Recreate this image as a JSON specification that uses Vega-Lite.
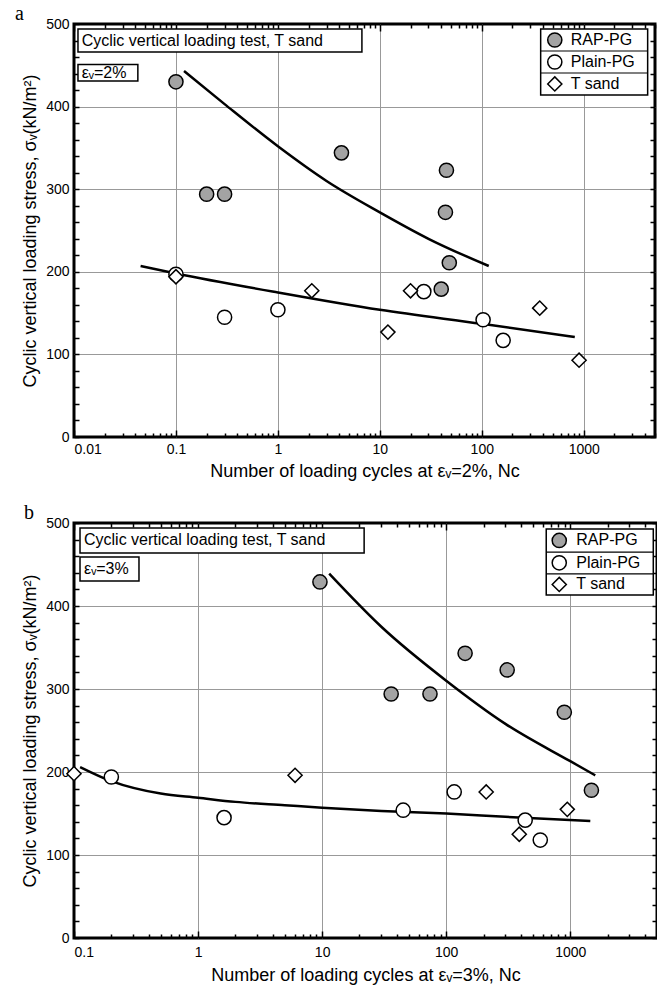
{
  "$schema": "https://vega.github.io/schema/vega-lite/v6.json",
  "background": "white",
  "padding": {"left": 13, "top": 2, "right": 0, "bottom": 2},
  "config": {
    "font": "Liberation Sans",
    "view": {"stroke": "black", "strokeWidth": 3},
    "axis": {
      "domain": false,
      "labelFont": "Liberation Sans",
      "labelFontSize": 14,
      "labelColor": "black",
      "titleFont": "Liberation Sans",
      "titleFontSize": 18,
      "titleFontWeight": "normal",
      "titleColor": "black",
      "tickColor": "black",
      "tickWidth": 1.5,
      "gridColor": "#999999",
      "gridWidth": 1
    },
    "text": {"font": "Liberation Sans", "fontSize": 16, "color": "black"}
  },
  "datasets": {
    "pointsA": [
      {"Nc": 0.1, "stress": 430, "material": "RAP-PG"},
      {"Nc": 0.2, "stress": 294, "material": "RAP-PG"},
      {"Nc": 0.3, "stress": 294, "material": "RAP-PG"},
      {"Nc": 4.2, "stress": 344, "material": "RAP-PG"},
      {"Nc": 45, "stress": 323, "material": "RAP-PG"},
      {"Nc": 44, "stress": 272, "material": "RAP-PG"},
      {"Nc": 48, "stress": 211, "material": "RAP-PG"},
      {"Nc": 40, "stress": 179, "material": "RAP-PG"},
      {"Nc": 0.1, "stress": 197, "material": "Plain-PG"},
      {"Nc": 0.3, "stress": 145, "material": "Plain-PG"},
      {"Nc": 1.0, "stress": 154, "material": "Plain-PG"},
      {"Nc": 27, "stress": 176, "material": "Plain-PG"},
      {"Nc": 103, "stress": 142, "material": "Plain-PG"},
      {"Nc": 162, "stress": 117, "material": "Plain-PG"},
      {"Nc": 0.1, "stress": 194, "material": "T sand"},
      {"Nc": 2.15, "stress": 177, "material": "T sand"},
      {"Nc": 12, "stress": 127, "material": "T sand"},
      {"Nc": 20, "stress": 177, "material": "T sand"},
      {"Nc": 370, "stress": 156, "material": "T sand"},
      {"Nc": 900, "stress": 93, "material": "T sand"}
    ],
    "linesA": [
      {"Nc": 0.12, "stress": 443, "curve": "upper"},
      {"Nc": 0.3, "stress": 403, "curve": "upper"},
      {"Nc": 1, "stress": 352, "curve": "upper"},
      {"Nc": 3, "stress": 310, "curve": "upper"},
      {"Nc": 10, "stress": 272, "curve": "upper"},
      {"Nc": 30, "stress": 240, "curve": "upper"},
      {"Nc": 117, "stress": 207, "curve": "upper"},
      {"Nc": 0.045, "stress": 207, "curve": "lower"},
      {"Nc": 0.1, "stress": 198, "curve": "lower"},
      {"Nc": 1, "stress": 175, "curve": "lower"},
      {"Nc": 10, "stress": 154, "curve": "lower"},
      {"Nc": 100, "stress": 137, "curve": "lower"},
      {"Nc": 817, "stress": 121, "curve": "lower"}
    ],
    "pointsB": [
      {"Nc": 9.6, "stress": 429, "material": "RAP-PG"},
      {"Nc": 36, "stress": 294, "material": "RAP-PG"},
      {"Nc": 74, "stress": 294, "material": "RAP-PG"},
      {"Nc": 142, "stress": 343, "material": "RAP-PG"},
      {"Nc": 310, "stress": 323, "material": "RAP-PG"},
      {"Nc": 895, "stress": 272, "material": "RAP-PG"},
      {"Nc": 1480, "stress": 178, "material": "RAP-PG"},
      {"Nc": 0.2, "stress": 194, "material": "Plain-PG"},
      {"Nc": 1.62, "stress": 145, "material": "Plain-PG"},
      {"Nc": 45, "stress": 154, "material": "Plain-PG"},
      {"Nc": 116, "stress": 176, "material": "Plain-PG"},
      {"Nc": 433, "stress": 142, "material": "Plain-PG"},
      {"Nc": 573, "stress": 118, "material": "Plain-PG"},
      {"Nc": 0.1, "stress": 198, "material": "T sand"},
      {"Nc": 6.05, "stress": 196, "material": "T sand"},
      {"Nc": 210, "stress": 176, "material": "T sand"},
      {"Nc": 388, "stress": 125, "material": "T sand"},
      {"Nc": 946, "stress": 155, "material": "T sand"}
    ],
    "linesB": [
      {"Nc": 11.4, "stress": 439, "curve": "upper"},
      {"Nc": 30, "stress": 375, "curve": "upper"},
      {"Nc": 100, "stress": 310, "curve": "upper"},
      {"Nc": 300, "stress": 258, "curve": "upper"},
      {"Nc": 1000, "stress": 213, "curve": "upper"},
      {"Nc": 1590, "stress": 196, "curve": "upper"},
      {"Nc": 0.112, "stress": 206, "curve": "lower"},
      {"Nc": 0.2, "stress": 189, "curve": "lower"},
      {"Nc": 0.5, "stress": 174, "curve": "lower"},
      {"Nc": 1, "stress": 169, "curve": "lower"},
      {"Nc": 2, "stress": 164, "curve": "lower"},
      {"Nc": 5, "stress": 160, "curve": "lower"},
      {"Nc": 10, "stress": 157, "curve": "lower"},
      {"Nc": 30, "stress": 153, "curve": "lower"},
      {"Nc": 100, "stress": 150, "curve": "lower"},
      {"Nc": 300, "stress": 146, "curve": "lower"},
      {"Nc": 1450, "stress": 141, "curve": "lower"}
    ]
  },
  "spacing": 19,
  "vconcat": [
    {
      "title": {"text": "a", "anchor": "start", "frame": "group", "font": "Liberation Serif", "fontSize": 20, "fontWeight": "normal", "color": "black", "dx": -59, "offset": -7},
      "width": 581,
      "height": 413,
      "resolve": {"axis": {"x": "independent", "y": "independent"}},
      "layer": [
        {
          "data": {"values": [{"label": "Cyclic vertical loading test, T sand"}]},
          "mark": {"type": "rect", "fill": "white", "stroke": "black", "strokeWidth": 1.5},
          "encoding": {
            "x": {"datum": 0.01094, "type": "quantitative", "scale": {"type": "log", "domain": [0.01, 5000], "nice": false}, "axis": null},
            "x2": {"datum": 6.67},
            "y": {"datum": 494, "type": "quantitative", "scale": {"domain": [0, 500], "nice": false}, "axis": null},
            "y2": {"datum": 466}
          }
        },
        {
          "data": {"values": [{"label": "Cyclic vertical loading test, T sand"}]},
          "mark": {"type": "text", "align": "left", "baseline": "middle"},
          "encoding": {
            "x": {"datum": 0.0119, "type": "quantitative", "axis": null},
            "y": {"datum": 480, "type": "quantitative", "axis": null},
            "text": {"field": "label"}
          }
        },
        {
          "data": {"values": [{"label": "εᵥ=2%"}]},
          "mark": {"type": "rect", "fill": "white", "stroke": "black", "strokeWidth": 1.5},
          "encoding": {
            "x": {"datum": 0.01094, "type": "quantitative", "axis": null},
            "x2": {"datum": 0.0423},
            "y": {"datum": 451, "type": "quantitative", "axis": null},
            "y2": {"datum": 431}
          }
        },
        {
          "data": {"values": [{"label": "εᵥ=2%"}]},
          "mark": {"type": "text", "align": "left", "baseline": "middle"},
          "encoding": {
            "x": {"datum": 0.0119, "type": "quantitative", "axis": null},
            "y": {"datum": 441, "type": "quantitative", "axis": null},
            "text": {"field": "label"}
          }
        },
        {
          "data": {"values": [{"label": "legend"}]},
          "mark": {"type": "rect", "fill": "white", "stroke": "black", "strokeWidth": 1.5},
          "encoding": {
            "x": {"datum": 378, "type": "quantitative", "axis": null},
            "x2": {"datum": 4236},
            "y": {"datum": 494, "type": "quantitative", "axis": null},
            "y2": {"datum": 414}
          }
        },
        {
          "data": {"values": [{"label": "separator"}]},
          "mark": {"type": "rule", "stroke": "black", "strokeWidth": 1.2},
          "encoding": {
            "x": {"datum": 378, "type": "quantitative", "axis": null},
            "x2": {"datum": 4236},
            "y": {"datum": 467.3, "type": "quantitative", "axis": null}
          }
        },
        {
          "data": {"values": [{"label": "separator"}]},
          "mark": {"type": "rule", "stroke": "black", "strokeWidth": 1.2},
          "encoding": {
            "x": {"datum": 378, "type": "quantitative", "axis": null},
            "x2": {"datum": 4236},
            "y": {"datum": 440.7, "type": "quantitative", "axis": null}
          }
        },
        {
          "data": {"values": [{"material": "RAP-PG"}]},
          "mark": {"type": "point", "shape": "circle", "filled": true, "fill": "#a3a3a3", "stroke": "black", "strokeWidth": 1.5, "size": 200, "opacity": 1},
          "encoding": {"x": {"datum": 520, "type": "quantitative", "axis": null}, "y": {"datum": 480.6, "type": "quantitative", "axis": null}}
        },
        {
          "data": {"values": [{"material": "Plain-PG"}]},
          "mark": {"type": "point", "shape": "circle", "filled": true, "fill": "white", "stroke": "black", "strokeWidth": 1.5, "size": 200, "opacity": 1},
          "encoding": {"x": {"datum": 520, "type": "quantitative", "axis": null}, "y": {"datum": 454, "type": "quantitative", "axis": null}}
        },
        {
          "data": {"values": [{"material": "T sand"}]},
          "mark": {"type": "point", "shape": "diamond", "filled": true, "fill": "white", "stroke": "black", "strokeWidth": 1.5, "size": 200, "opacity": 1},
          "encoding": {"x": {"datum": 520, "type": "quantitative", "axis": null}, "y": {"datum": 427.4, "type": "quantitative", "axis": null}}
        },
        {
          "data": {"values": [{"material": "RAP-PG"}]},
          "mark": {"type": "text", "align": "left", "baseline": "middle"},
          "encoding": {"x": {"datum": 746, "type": "quantitative", "axis": null}, "y": {"datum": 480.6, "type": "quantitative", "axis": null}, "text": {"field": "material"}}
        },
        {
          "data": {"values": [{"material": "Plain-PG"}]},
          "mark": {"type": "text", "align": "left", "baseline": "middle"},
          "encoding": {"x": {"datum": 746, "type": "quantitative", "axis": null}, "y": {"datum": 454, "type": "quantitative", "axis": null}, "text": {"field": "material"}}
        },
        {
          "data": {"values": [{"material": "T sand"}]},
          "mark": {"type": "text", "align": "left", "baseline": "middle"},
          "encoding": {"x": {"datum": 746, "type": "quantitative", "axis": null}, "y": {"datum": 427.4, "type": "quantitative", "axis": null}, "text": {"field": "material"}}
        },
        {
          "data": {"name": "linesA"},
          "mark": {"type": "line", "color": "black", "strokeWidth": 2.5, "interpolate": "monotone"},
          "encoding": {
            "x": {"field": "Nc", "type": "quantitative", "axis": {"orient": "top", "labels": false, "grid": false, "title": null, "values": [0.01,0.02,0.03,0.04,0.05,0.06,0.07,0.08,0.09,0.1,0.2,0.3,0.4,0.5,0.6,0.7,0.8,0.9,1,2,3,4,5,6,7,8,9,10,20,30,40,50,60,70,80,90,100,200,300,400,500,600,700,800,900,1000,2000,3000,4000,5000], "tickSize": {"condition": {"test": "abs(log(datum.value)/LN10 - round(log(datum.value)/LN10)) < 0.001", "value": -7}, "value": -4}}},
            "y": {"field": "stress", "type": "quantitative", "axis": {"orient": "right", "labels": false, "grid": false, "title": null, "values": [0,20,40,60,80,100,120,140,160,180,200,220,240,260,280,300,320,340,360,380,400,420,440,460,480,500], "tickSize": -5}},
            "detail": {"field": "curve"}
          }
        },
        {
          "data": {"name": "pointsA"},
          "mark": {"type": "point", "filled": false, "stroke": "black", "strokeWidth": 1.5, "size": 200, "opacity": 1, "clip": false},
          "encoding": {
            "x": {"field": "Nc", "type": "quantitative", "title": "Number of loading cycles at εᵥ=2%, Nc", "axis": {"orient": "bottom", "grid": true, "format": "~g", "titlePadding": 6, "labelPadding": 12, "labelExpr": "abs(log(datum.value)/LN10 - round(log(datum.value)/LN10)) < 0.001 ? datum.label : ''", "values": [0.01,0.02,0.03,0.04,0.05,0.06,0.07,0.08,0.09,0.1,0.2,0.3,0.4,0.5,0.6,0.7,0.8,0.9,1,2,3,4,5,6,7,8,9,10,20,30,40,50,60,70,80,90,100,200,300,400,500,600,700,800,900,1000,2000,3000,4000,5000], "tickSize": {"condition": {"test": "abs(log(datum.value)/LN10 - round(log(datum.value)/LN10)) < 0.001", "value": -7}, "value": -4}, "gridOpacity": {"condition": {"test": "abs(log(datum.value)/LN10 - round(log(datum.value)/LN10)) < 0.001 && datum.value > 0.01 && datum.value < 5000", "value": 1}, "value": 0}}},
            "y": {"field": "stress", "type": "quantitative", "title": "Cyclic vertical loading stress, σᵥ(kN/m²)", "axis": {"orient": "left", "grid": true, "labelPadding": 10, "titlePadding": 6, "labelExpr": "datum.value % 100 === 0 ? datum.label : ''", "values": [0,20,40,60,80,100,120,140,160,180,200,220,240,260,280,300,320,340,360,380,400,420,440,460,480,500], "tickSize": -5, "gridOpacity": {"condition": {"test": "datum.value % 100 === 0 && datum.value > 0 && datum.value < 500", "value": 1}, "value": 0}}},
            "shape": {"field": "material", "type": "nominal", "scale": {"domain": ["RAP-PG", "Plain-PG", "T sand"], "range": ["circle", "circle", "diamond"]}, "legend": null},
            "fill": {"field": "material", "type": "nominal", "scale": {"domain": ["RAP-PG", "Plain-PG", "T sand"], "range": ["#a3a3a3", "white", "white"]}, "legend": null}
          }
        }
      ]
    },
    {
      "title": {"text": "b", "anchor": "start", "frame": "group", "font": "Liberation Serif", "fontSize": 20, "fontWeight": "normal", "color": "black", "dx": -50, "offset": -7},
      "width": 583,
      "height": 415,
      "resolve": {"axis": {"x": "independent", "y": "independent"}},
      "layer": [
        {
          "data": {"values": [{"label": "Cyclic vertical loading test, T sand"}]},
          "mark": {"type": "rect", "fill": "white", "stroke": "black", "strokeWidth": 1.5},
          "encoding": {
            "x": {"datum": 0.1118, "type": "quantitative", "scale": {"type": "log", "domain": [0.1, 5000], "nice": false}, "axis": null},
            "x2": {"datum": 21.8},
            "y": {"datum": 494, "type": "quantitative", "scale": {"domain": [0, 500], "nice": false}, "axis": null},
            "y2": {"datum": 464}
          }
        },
        {
          "data": {"values": [{"label": "Cyclic vertical loading test, T sand"}]},
          "mark": {"type": "text", "align": "left", "baseline": "middle"},
          "encoding": {
            "x": {"datum": 0.1204, "type": "quantitative", "axis": null},
            "y": {"datum": 479, "type": "quantitative", "axis": null},
            "text": {"field": "label"}
          }
        },
        {
          "data": {"values": [{"label": "εᵥ=3%"}]},
          "mark": {"type": "rect", "fill": "white", "stroke": "black", "strokeWidth": 1.5},
          "encoding": {
            "x": {"datum": 0.1118, "type": "quantitative", "axis": null},
            "x2": {"datum": 0.334},
            "y": {"datum": 459, "type": "quantitative", "axis": null},
            "y2": {"datum": 430}
          }
        },
        {
          "data": {"values": [{"label": "εᵥ=3%"}]},
          "mark": {"type": "text", "align": "left", "baseline": "middle"},
          "encoding": {
            "x": {"datum": 0.1204, "type": "quantitative", "axis": null},
            "y": {"datum": 445, "type": "quantitative", "axis": null},
            "text": {"field": "label"}
          }
        },
        {
          "data": {"values": [{"label": "legend"}]},
          "mark": {"type": "rect", "fill": "white", "stroke": "black", "strokeWidth": 1.5},
          "encoding": {
            "x": {"datum": 640, "type": "quantitative", "axis": null},
            "x2": {"datum": 4667},
            "y": {"datum": 492.8, "type": "quantitative", "axis": null},
            "y2": {"datum": 413.3}
          }
        },
        {
          "data": {"values": [{"label": "separator"}]},
          "mark": {"type": "rule", "stroke": "black", "strokeWidth": 1.2},
          "encoding": {
            "x": {"datum": 640, "type": "quantitative", "axis": null},
            "x2": {"datum": 4667},
            "y": {"datum": 465, "type": "quantitative", "axis": null}
          }
        },
        {
          "data": {"values": [{"label": "separator"}]},
          "mark": {"type": "rule", "stroke": "black", "strokeWidth": 1.2},
          "encoding": {
            "x": {"datum": 640, "type": "quantitative", "axis": null},
            "x2": {"datum": 4667},
            "y": {"datum": 438.6, "type": "quantitative", "axis": null}
          }
        },
        {
          "data": {"values": [{"material": "RAP-PG"}]},
          "mark": {"type": "point", "shape": "circle", "filled": true, "fill": "#a3a3a3", "stroke": "black", "strokeWidth": 1.5, "size": 200, "opacity": 1},
          "encoding": {"x": {"datum": 815, "type": "quantitative", "axis": null}, "y": {"datum": 479, "type": "quantitative", "axis": null}}
        },
        {
          "data": {"values": [{"material": "Plain-PG"}]},
          "mark": {"type": "point", "shape": "circle", "filled": true, "fill": "white", "stroke": "black", "strokeWidth": 1.5, "size": 200, "opacity": 1},
          "encoding": {"x": {"datum": 815, "type": "quantitative", "axis": null}, "y": {"datum": 452, "type": "quantitative", "axis": null}}
        },
        {
          "data": {"values": [{"material": "T sand"}]},
          "mark": {"type": "point", "shape": "diamond", "filled": true, "fill": "white", "stroke": "black", "strokeWidth": 1.5, "size": 200, "opacity": 1},
          "encoding": {"x": {"datum": 815, "type": "quantitative", "axis": null}, "y": {"datum": 426, "type": "quantitative", "axis": null}}
        },
        {
          "data": {"values": [{"material": "RAP-PG"}]},
          "mark": {"type": "text", "align": "left", "baseline": "middle"},
          "encoding": {"x": {"datum": 1117, "type": "quantitative", "axis": null}, "y": {"datum": 479, "type": "quantitative", "axis": null}, "text": {"field": "material"}}
        },
        {
          "data": {"values": [{"material": "Plain-PG"}]},
          "mark": {"type": "text", "align": "left", "baseline": "middle"},
          "encoding": {"x": {"datum": 1117, "type": "quantitative", "axis": null}, "y": {"datum": 452, "type": "quantitative", "axis": null}, "text": {"field": "material"}}
        },
        {
          "data": {"values": [{"material": "T sand"}]},
          "mark": {"type": "text", "align": "left", "baseline": "middle"},
          "encoding": {"x": {"datum": 1117, "type": "quantitative", "axis": null}, "y": {"datum": 426, "type": "quantitative", "axis": null}, "text": {"field": "material"}}
        },
        {
          "data": {"name": "linesB"},
          "mark": {"type": "line", "color": "black", "strokeWidth": 2.5, "interpolate": "monotone"},
          "encoding": {
            "x": {"field": "Nc", "type": "quantitative", "axis": {"orient": "top", "labels": false, "grid": false, "title": null, "values": [0.1,0.2,0.3,0.4,0.5,0.6,0.7,0.8,0.9,1,2,3,4,5,6,7,8,9,10,20,30,40,50,60,70,80,90,100,200,300,400,500,600,700,800,900,1000,2000,3000,4000,5000], "tickSize": {"condition": {"test": "abs(log(datum.value)/LN10 - round(log(datum.value)/LN10)) < 0.001", "value": -7}, "value": -4}}},
            "y": {"field": "stress", "type": "quantitative", "axis": {"orient": "right", "labels": false, "grid": false, "title": null, "values": [0,20,40,60,80,100,120,140,160,180,200,220,240,260,280,300,320,340,360,380,400,420,440,460,480,500], "tickSize": -5}},
            "detail": {"field": "curve"}
          }
        },
        {
          "data": {"name": "pointsB"},
          "mark": {"type": "point", "filled": false, "stroke": "black", "strokeWidth": 1.5, "size": 200, "opacity": 1, "clip": false},
          "encoding": {
            "x": {"field": "Nc", "type": "quantitative", "title": "Number of loading cycles at εᵥ=3%, Nc", "axis": {"orient": "bottom", "grid": true, "format": "~g", "titlePadding": 7, "labelPadding": 14, "labelExpr": "abs(log(datum.value)/LN10 - round(log(datum.value)/LN10)) < 0.001 ? datum.label : ''", "values": [0.1,0.2,0.3,0.4,0.5,0.6,0.7,0.8,0.9,1,2,3,4,5,6,7,8,9,10,20,30,40,50,60,70,80,90,100,200,300,400,500,600,700,800,900,1000,2000,3000,4000,5000], "tickSize": {"condition": {"test": "abs(log(datum.value)/LN10 - round(log(datum.value)/LN10)) < 0.001", "value": -7}, "value": -4}, "gridOpacity": {"condition": {"test": "abs(log(datum.value)/LN10 - round(log(datum.value)/LN10)) < 0.001 && datum.value > 0.1 && datum.value < 5000", "value": 1}, "value": 0}}},
            "y": {"field": "stress", "type": "quantitative", "title": "Cyclic vertical loading stress, σᵥ(kN/m²)", "axis": {"orient": "left", "grid": true, "labelPadding": 10, "titlePadding": 6, "labelExpr": "datum.value % 100 === 0 ? datum.label : ''", "values": [0,20,40,60,80,100,120,140,160,180,200,220,240,260,280,300,320,340,360,380,400,420,440,460,480,500], "tickSize": -5, "gridOpacity": {"condition": {"test": "datum.value % 100 === 0 && datum.value > 0 && datum.value < 500", "value": 1}, "value": 0}}},
            "shape": {"field": "material", "type": "nominal", "scale": {"domain": ["RAP-PG", "Plain-PG", "T sand"], "range": ["circle", "circle", "diamond"]}, "legend": null},
            "fill": {"field": "material", "type": "nominal", "scale": {"domain": ["RAP-PG", "Plain-PG", "T sand"], "range": ["#a3a3a3", "white", "white"]}, "legend": null}
          }
        }
      ]
    }
  ]
}
